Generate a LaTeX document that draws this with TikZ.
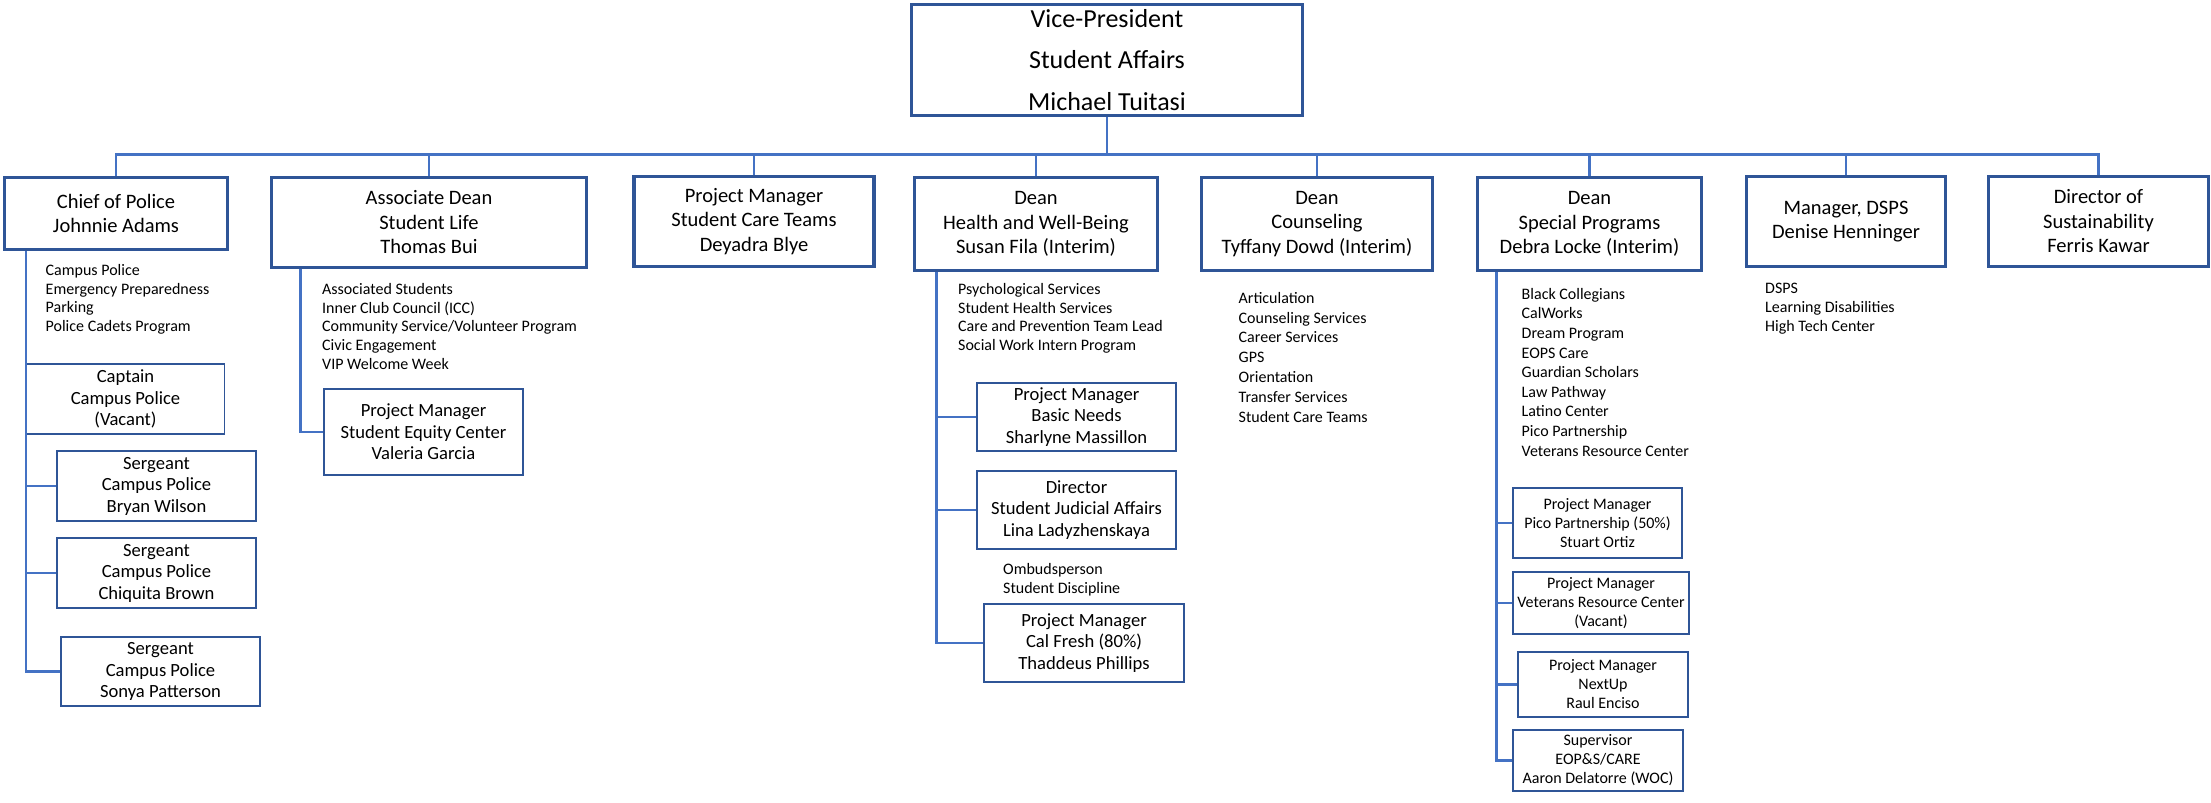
\documentclass[tikz,border=0pt]{standalone}
\usepackage{fontspec}
\setmainfont{Carlito}
\definecolor{boxblue}{HTML}{2F5597}
\definecolor{lineblue}{HTML}{4472C4}
\begin{document}
\begin{tikzpicture}[x=1pt, y=-1pt,
	topbox/.style={draw=boxblue, line width=3.2pt, align=center, inner sep=0pt, font=\fontsize{26}{41.5}\selectfont},
	headbox/.style={draw=boxblue, line width=3.2pt, align=center, inner sep=0pt, font=\fontsize{20.5}{24.5}\selectfont},
	staffbox/.style={draw=boxblue, line width=1.8pt, align=center, inner sep=0pt, font=\fontsize{18.6}{21.5}\selectfont},
	smallbox/.style={staffbox, font=\fontsize{16}{19}\selectfont},
	duties/.style={anchor=north west, align=left, inner sep=0pt, font=\fontsize{16}{18.8}\selectfont},
	link/.style={draw=lineblue, line width=2.2pt}]
	\useasboundingbox (0,0) rectangle (2211,803);
	\coordinate (bus) at (0,154.5);
	% top
	\node[topbox, minimum width=391pt, minimum height=111pt] (vp) at (1107,60) {Vice-President\\Student Affairs\\Michael Tuitasi};
	% second row
	\node[headbox, minimum width=223pt, minimum height=72pt] (chief) at (116,213.5) {Chief of Police\\Johnnie Adams};
	\node[headbox, minimum width=315pt, minimum height=90pt] (assoc) at (429,222.5) {Associate Dean\\Student Life\\Thomas Bui};
	\node[headbox, minimum width=240pt, minimum height=90pt] (sct) at (754,221.5) {Project Manager\\Student Care Teams\\Deyadra Blye};
	\node[headbox, minimum width=243pt, minimum height=93pt] (health) at (1036,224) {Dean\\Health and Well-Being\\Susan Fila (Interim)};
	\node[headbox, minimum width=231pt, minimum height=93pt] (couns) at (1317,224) {Dean\\Counseling\\Tyffany Dowd (Interim)};
	\node[headbox, minimum width=224pt, minimum height=93pt] (special) at (1589.5,224) {Dean\\Special Programs\\Debra Locke (Interim)};
	\node[headbox, minimum width=199pt, minimum height=90pt] (dsps) at (1846,221.5) {Manager, DSPS\\Denise Henninger};
	\node[headbox, minimum width=220pt, minimum height=90pt] (sustain) at (2098.5,221.5) {Director of\\Sustainability\\Ferris Kawar};
	\foreach \n in {chief,assoc,sct,health,couns,special,dsps,sustain}
		\draw[link] (vp.south) |- (bus -| \n.north) -- (\n.north);
	% police
	\node[duties] (chieflist) at (45.5,264) {Campus Police\\Emergency Preparedness\\Parking\\Police Cadets Program};
	\node[staffbox, minimum width=198pt, minimum height=70pt] (captain) at (125.5,399) {Captain\\Campus Police\\(Vacant)};
	\node[staffbox, minimum width=199pt, minimum height=70pt] (sgtA) at (156.5,486) {Sergeant\\Campus Police\\Bryan Wilson};
	\node[staffbox, minimum width=199pt, minimum height=70pt] (sgtB) at (156.5,573) {Sergeant\\Campus Police\\Chiquita Brown};
	\node[staffbox, minimum width=199pt, minimum height=69pt] (sgtC) at (160.5,671.5) {Sergeant\\Campus Police\\Sonya Patterson};
	\coordinate (chiefbar) at (chief.south -| captain.west);
	\draw[link] (chiefbar) |- (sgtC.west);
	\foreach \n in {sgtA,sgtB}
		\draw[link] (\n.west) -- (\n.west -| chiefbar);
	% student life
	\node[duties] (assoclist) at (322,283) {Associated Students\\Inner Club Council (ICC)\\Community Service/Volunteer Program\\Civic Engagement\\VIP Welcome Week};
	\node[staffbox, minimum width=199pt, minimum height=86pt] (equity) at (423.5,432) {Project Manager\\Student Equity Center\\Valeria Garcia};
	\draw[link] ([xshift=30.5pt]assoc.south west) |- (equity.west);
	% health
	\node[duties] (healthlist) at (958,283) {Psychological Services\\Student Health Services\\Care and Prevention Team Lead\\Social Work Intern Program};
	\node[staffbox, minimum width=199pt, minimum height=68pt] (needs) at (1076.5,417) {Project Manager\\Basic Needs\\Sharlyne Massillon};
	\node[staffbox, minimum width=199pt, minimum height=78pt] (judicial) at (1076.5,510) {Director\\Student Judicial Affairs\\Lina Ladyzhenskaya};
	\node[duties] (judiciallist) at (1003,563) {Ombudsperson\\Student Discipline};
	\node[staffbox, minimum width=200pt, minimum height=78pt] (calfresh) at (1084,643) {Project Manager\\Cal Fresh (80\%)\\Thaddeus Phillips};
	\coordinate (healthbar) at ([xshift=23.5pt]health.south west);
	\draw[link] (healthbar) |- (calfresh.west);
	\foreach \n in {needs,judicial}
		\draw[link] (\n.west) -- (\n.west -| healthbar);
	% counseling
	\node[duties, font=\fontsize{16}{19.8}\selectfont] (counslist) at (1238.5,292) {Articulation\\Counseling Services\\Career Services\\GPS\\Orientation\\Transfer Services\\Student Care Teams};
	% special programs
	\node[duties, font=\fontsize{16}{19.6}\selectfont] (speciallist) at (1521.5,288) {Black Collegians\\CalWorks\\Dream Program\\EOPS Care\\Guardian Scholars\\Law Pathway\\Latino Center\\Pico Partnership\\Veterans Resource Center};
	\node[smallbox, minimum width=169pt, minimum height=70pt] (pico) at (1597.5,523) {Project Manager\\Pico Partnership (50\%)\\Stuart Ortiz};
	\node[smallbox, minimum width=176pt, minimum height=62pt] (veterans) at (1601,603) {Project Manager\\Veterans Resource Center\\(Vacant)};
	\node[smallbox, minimum width=170pt, minimum height=65pt] (nextup) at (1603,684.5) {Project Manager\\NextUp\\Raul Enciso};
	\node[smallbox, minimum width=170pt, minimum height=61pt] (supervisor) at (1598,760.5) {Supervisor\\EOP\&S/CARE\\Aaron Delatorre (WOC)};
	\coordinate (specialbar) at ([xshift=20.5pt]special.south west);
	\draw[link] (specialbar) |- (supervisor.west);
	\foreach \n in {pico,veterans,nextup}
		\draw[link] (\n.west) -- (\n.west -| specialbar);
	% dsps
	\node[duties] (dspslist) at (1765,283) {DSPS\\Learning Disabilities\\High Tech Center};
\end{tikzpicture}
\end{document}
